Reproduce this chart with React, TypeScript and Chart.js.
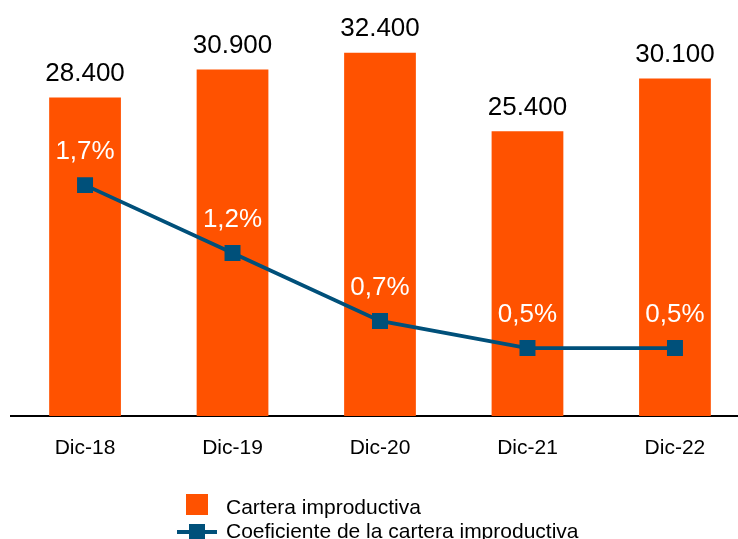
import React, { useEffect, useRef } from 'react';
import { Chart, registerables } from 'chart.js';

Chart.register(...registerables);

const categories = ['Dic-18', 'Dic-19', 'Dic-20', 'Dic-21', 'Dic-22'];
const carteraImproductiva = [28400, 30900, 32400, 25400, 30100];
const coeficienteCartera = [1.7, 1.2, 0.7, 0.5, 0.5];
const seriesNames = ['Cartera improductiva', 'Coeficiente de la cartera improductiva'];

const ORANGE = '#FF5200';
const TEAL = '#00507A';
const FONT = "'Liberation Sans', Arial, Helvetica, sans-serif";

const fmtThousands = (v: number) => String(Math.round(v)).replace(/\B(?=(\d{3})+(?!\d))/g, '.');
const fmtPct = (v: number) => v.toFixed(1).replace('.', ',') + '%';

const valueLabelsPlugin = {
  id: 'valueLabels',
  afterDatasetsDraw(chart: any) {
    const ctx = chart.ctx;
    ctx.save();
    ctx.font = `26px ${FONT}`;
    ctx.textAlign = 'center';
    ctx.textBaseline = 'alphabetic';
    const barMeta = chart.getDatasetMeta(0);
    ctx.fillStyle = '#000';
    barMeta.data.forEach((el: any, i: number) => {
      ctx.fillText(fmtThousands(chart.data.datasets[0].data[i]), el.x, el.y - 16.5);
    });
    const lineMeta = chart.getDatasetMeta(1);
    ctx.fillStyle = '#FFFFFF';
    lineMeta.data.forEach((el: any, i: number) => {
      ctx.fillText(fmtPct(chart.data.datasets[1].data[i]), el.x, el.y - 26);
    });
    ctx.restore();
  },
};

const stackedLegendPlugin = {
  id: 'stackedLegend',
  afterDraw(chart: any) {
    const ctx = chart.ctx;
    const base = chart.chartArea.bottom;
    const symX = 197;
    const textX = 226;
    ctx.save();
    ctx.font = `21px ${FONT}`;
    ctx.textAlign = 'left';
    ctx.textBaseline = 'alphabetic';
    // item 1: bar
    ctx.fillStyle = ORANGE;
    ctx.fillRect(symX - 11, base + 78, 22, 21);
    ctx.fillStyle = '#000';
    ctx.fillText(seriesNames[0], textX, base + 98);
    // item 2: line with square marker
    const ly = base + 116;
    ctx.strokeStyle = TEAL;
    ctx.lineWidth = 4;
    ctx.beginPath();
    ctx.moveTo(symX - 20, ly);
    ctx.lineTo(symX + 20, ly);
    ctx.stroke();
    ctx.fillStyle = TEAL;
    ctx.fillRect(symX - 8, ly - 8, 16, 16);
    ctx.fillStyle = '#000';
    ctx.fillText(seriesNames[1], textX, base + 122);
    ctx.restore();
  },
};

export default function App() {
  const canvasRef = useRef<HTMLCanvasElement | null>(null);

  useEffect(() => {
    const canvas = canvasRef.current;
    if (!canvas) return;
    const chart = new Chart(canvas, {
      data: {
        labels: categories,
        datasets: [
          {
            type: 'bar',
            label: seriesNames[0],
            data: carteraImproductiva,
            backgroundColor: ORANGE,
            borderWidth: 0,
            yAxisID: 'y',
            order: 2,
            categoryPercentage: 1,
            barPercentage: 0.4865,
          },
          {
            type: 'line',
            label: seriesNames[1],
            data: coeficienteCartera,
            borderColor: TEAL,
            backgroundColor: TEAL,
            borderWidth: 3.8,
            pointStyle: 'rect',
            pointRadius: 11.3,
            pointBorderWidth: 0,
            pointBackgroundColor: TEAL,
            tension: 0,
            yAxisID: 'y1',
            order: 1,
          },
        ],
      } as any,
      options: {
        responsive: false,
        animation: false,
        devicePixelRatio: 1,
        layout: { padding: { left: 9, right: 11, top: 8, bottom: 57.8 } },
        plugins: {
          legend: { display: false },
          tooltip: { enabled: false },
        },
        scales: {
          x: {
            grid: { display: false, drawTicks: false },
            border: { display: true, color: '#000', width: 2 },
            ticks: { color: '#000', font: { family: FONT, size: 21 }, padding: 20 },
          },
          y: { display: false, min: 0, max: 36100 },
          y1: { display: false, min: 0, max: 2.98, position: 'right' },
        },
      } as any,
      plugins: [valueLabelsPlugin, stackedLegendPlugin],
    });
    return () => chart.destroy();
  }, []);

  return (
    <div style={{ position: 'absolute', left: 0, top: 0, width: 738, height: 539, overflow: 'hidden', background: '#fff' }}>
      <canvas ref={canvasRef} width={760} height={539} style={{ display: 'block', width: 760, height: 539 }} />
    </div>
  );
}
